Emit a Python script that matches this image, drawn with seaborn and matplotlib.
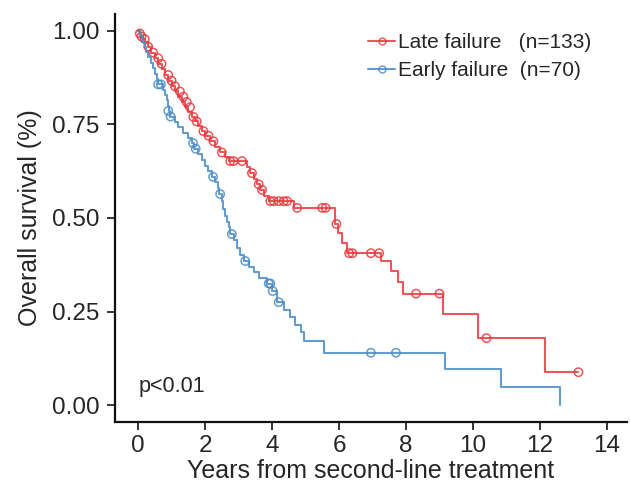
import matplotlib
matplotlib.use("Agg")
import matplotlib.pyplot as plt
from matplotlib.lines import Line2D
import seaborn as sns
import pandas as pd

# ---- data ----
late_t = [0, 0.05, 0.1, 0.15, 0.22, 0.3, 0.4, 0.5, 0.6, 0.7, 0.8, 0.9, 1.0, 1.1,
          1.2, 1.3, 1.4, 1.5, 1.6, 1.7, 1.8, 1.9, 2.0, 2.15, 2.3, 2.45, 2.6, 2.7,
          3.25, 3.35, 3.45, 3.55, 3.65, 3.75, 3.9, 4.65, 5.88, 5.97, 6.1, 6.25,
          7.25, 7.55, 7.75, 7.9, 9.1, 10.15, 12.15, 13.15]
late_s = [1.0, 0.993, 0.985, 0.978, 0.97, 0.958, 0.942, 0.927, 0.912, 0.897, 0.882,
          0.867, 0.852, 0.838, 0.824, 0.81, 0.796, 0.782, 0.77, 0.758, 0.745, 0.732,
          0.72, 0.705, 0.69, 0.675, 0.662, 0.652, 0.636, 0.62, 0.605, 0.59, 0.575,
          0.56, 0.545, 0.527, 0.484, 0.46, 0.433, 0.406, 0.385, 0.358, 0.33, 0.298,
          0.243, 0.179, 0.088, 0.088]
late_cens_t = [0.05, 0.1, 0.2, 0.3, 0.45, 0.6, 0.7, 0.9, 1.0, 1.1, 1.25, 1.35, 1.45,
               1.55, 1.65, 1.75, 1.95, 2.1, 2.25, 2.5, 2.75, 2.85, 3.1, 3.4, 3.6,
               3.7, 3.95, 4.05, 4.2, 4.35, 4.45, 4.75, 5.5, 5.6, 5.92, 6.3, 6.4,
               6.95, 7.2, 8.3, 9.0, 10.4, 13.15]
late_cens_s = [0.993, 0.985, 0.978, 0.958, 0.942, 0.927, 0.912, 0.882, 0.867, 0.852,
               0.838, 0.824, 0.81, 0.796, 0.77, 0.758, 0.732, 0.72, 0.705, 0.675,
               0.652, 0.652, 0.652, 0.62, 0.59, 0.575, 0.545, 0.545, 0.545, 0.545,
               0.545, 0.527, 0.527, 0.527, 0.484, 0.406, 0.406, 0.406, 0.406, 0.298,
               0.298, 0.179, 0.088]

early_t = [0, 0.05, 0.12, 0.2, 0.25, 0.3, 0.38, 0.45, 0.5, 0.55, 0.6, 0.75, 0.8,
           0.85, 0.88, 0.92, 0.96, 1.1, 1.2, 1.35, 1.5, 1.6, 1.68, 1.8, 1.9, 2.0,
           2.1, 2.2, 2.3, 2.38, 2.42, 2.5, 2.55, 2.6, 2.65, 2.7, 2.75, 2.85, 2.95,
           3.05, 3.15, 3.3, 3.45, 3.6, 3.85, 4.0, 4.15, 4.35, 4.55, 4.7, 4.85, 4.95,
           5.55, 9.15, 10.85, 12.6, 12.6]
early_s = [1.0, 0.986, 0.971, 0.957, 0.943, 0.929, 0.914, 0.9, 0.886, 0.871, 0.857,
           0.843, 0.828, 0.814, 0.8, 0.786, 0.771, 0.757, 0.743, 0.728, 0.714, 0.7,
           0.685, 0.67, 0.655, 0.64, 0.625, 0.61, 0.595, 0.58, 0.564, 0.545, 0.525,
           0.505, 0.49, 0.475, 0.457, 0.44, 0.42, 0.4, 0.385, 0.37, 0.355, 0.34,
           0.325, 0.305, 0.275, 0.255, 0.235, 0.215, 0.195, 0.171, 0.14, 0.096,
           0.049, 0.0, 0.0]
early_cens_t = [0.6, 0.68, 0.9, 0.97, 1.64, 1.72, 2.24, 2.45, 2.8, 3.2, 3.9, 3.95,
                4.02, 4.2, 6.95, 7.7]
early_cens_s = [0.857, 0.857, 0.786, 0.771, 0.7, 0.685, 0.61, 0.564, 0.457, 0.385,
                0.325, 0.325, 0.305, 0.275, 0.14, 0.14]

labels = ["Late failure   (n=133)", "Early failure  (n=70)"]
x_ticks = [0, 2, 4, 6, 8, 10, 12, 14]
y_ticks = [0.0, 0.25, 0.5, 0.75, 1.0]

# ---- style ----
sns.set_style("ticks")
plt.rcParams["font.family"] = ["Liberation Sans", "DejaVu Sans"]
RED = "#E8383D"
BLUE = "#4A8BC6"
TXT = "#262626"

W, H = 631, 494
fig = plt.figure(figsize=(W / 100, H / 100), dpi=100)
ax = fig.add_axes([115 / W, (H - 422) / H, 512 / W, 408 / H])

late_df = pd.DataFrame({"t": late_t, "s": late_s})
early_df = pd.DataFrame({"t": early_t, "s": early_s})

sns.lineplot(data=late_df, x="t", y="s", ax=ax, color=RED, lw=1.5, alpha=0.85,
             drawstyle="steps-post", estimator=None, sort=False)
sns.lineplot(data=early_df, x="t", y="s", ax=ax, color=BLUE, lw=1.5, alpha=0.85,
             drawstyle="steps-post", estimator=None, sort=False)

sns.scatterplot(x=late_cens_t, y=late_cens_s, ax=ax, marker="o", s=36,
                facecolors="none", edgecolor=RED, linewidth=1.1, alpha=0.85)
sns.scatterplot(x=early_cens_t, y=early_cens_s, ax=ax, marker="o", s=36,
                facecolors="none", edgecolor=BLUE, linewidth=1.1, alpha=0.85)

ax.set_xlim(-0.69, 14.6)
ax.set_ylim(-0.045, 1.045)
ax.set_xticks(x_ticks)
ax.set_yticks(y_ticks)
ax.set_yticklabels([f"{v:.2f}" for v in y_ticks])
ax.tick_params(axis="both", labelsize=17.5, colors=TXT, length=6, width=1.3,
               direction="out")
ax.tick_params(axis="y", pad=5)
for side in ["top", "right"]:
    ax.spines[side].set_visible(False)
for side in ["left", "bottom"]:
    ax.spines[side].set_linewidth(1.6)
    ax.spines[side].set_color("#111111")

ax.set_xlabel("Years from second-line treatment", fontsize=18, color=TXT,
              labelpad=1)
ax.set_ylabel("Overall survival (%)", fontsize=18, color=TXT, labelpad=7)

ax.text(0.0, 0.05, "p<0.01", fontsize=15.5, color=TXT, va="center", ha="left")

handles = [Line2D([0], [0], color=RED, lw=1.5, marker="o", markersize=5,
                  markerfacecolor="none", alpha=0.85),
           Line2D([0], [0], color=BLUE, lw=1.5, marker="o", markersize=5,
                  markerfacecolor="none", alpha=0.85)]
leg = ax.legend(handles, labels, loc="upper left",
                bbox_to_anchor=(368 / W, 1 - 33 / H), bbox_transform=fig.transFigure,
                frameon=False, fontsize=15, handlelength=1.3, handletextpad=0.15,
                labelspacing=0.45, borderpad=0, borderaxespad=0)
for t in leg.get_texts():
    t.set_color(TXT)

fig.savefig("out.png", dpi=100)
